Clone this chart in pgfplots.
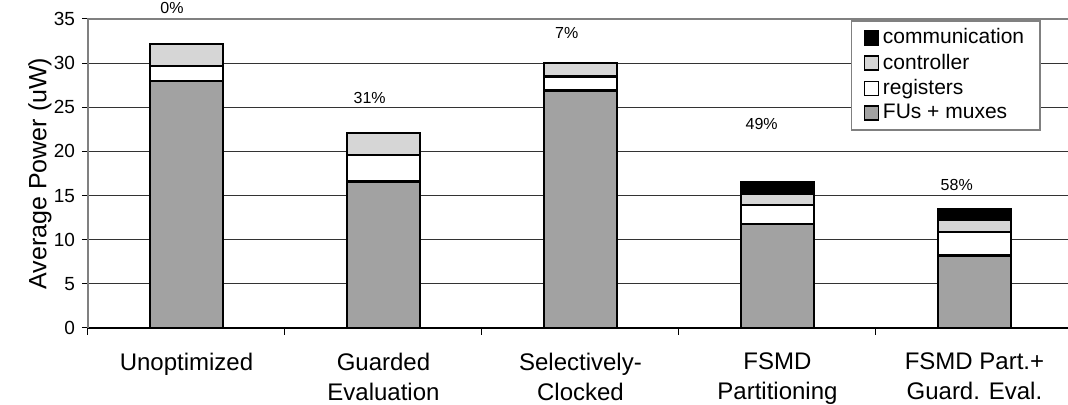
\documentclass[border=0pt]{standalone}
\usepackage{pgfplots}
\pgfplotsset{compat=1.18}
\usepackage{pgfplotstable}
\usepackage{fontspec}
\setmainfont{Liberation Sans}
\usetikzlibrary{calc}
\definecolor{fugray}{HTML}{A2A2A2}
\definecolor{ctrlgray}{HTML}{D6D6D6}
\pgfplotstableread{
x fu reg ctrl comm
0 28.0 1.7 2.5 0
1 16.6 3.0 2.5 0
2 26.9 1.6 1.5 0
3 11.8 2.1 1.3 1.3
4 8.2 2.7 1.3 1.3
}\data
\begin{document}
\begin{tikzpicture}
\begin{axis}[
  name=ax,
  scale only axis,
  width=490pt, height=154.5pt,
  ybar stacked,
  bar width=0.37,
  xmin=-0.5, xmax=4.475,
  ymin=0, ymax=35,
  ytick={0,5,...,35},
  xtick={0,1,2,3,4},
  xticklabels={Unoptimized,{Guarded\\Evaluation},{Selectively-\\Clocked},{FSMD\\Partitioning},{FSMD Part.+\\Guard. Eval.}},
  xticklabel style={align=center, font=\fontsize{12}{15}\selectfont, yshift=-6pt},
  yticklabel style={font=\fontsize{9.5}{11}\selectfont},
  /pgf/number format/assume math mode=true,
  xtick pos=bottom, ytick pos=left,
  x tick style={draw=none},
  y tick style={black, line width=0.5pt},
  tick align=outside,
  major tick length=3pt,
  extra x ticks={-0.5,0.5,1.5,2.5,3.5},
  extra x tick labels={},
  extra x tick style={xtick pos=bottom, x tick style={draw=black, line width=0.5pt}, major tick length=3.5pt, grid=none},
  ymajorgrids,
  grid style={black!80, line width=0.5pt},
  axis line style={draw=none},
  ylabel={Average Power (uW)},
  every axis y label/.style={at={(axis description cs:-0.049,0.5)}, rotate=90, anchor=center, font=\fontsize{12.5}{15}\selectfont},
  clip=false,
  legend style={at={(axis description cs:0.9724,0.997)}, anchor=north east, draw=gray, line width=0.8pt, font=\fontsize{10.5}{12}\selectfont, cells={anchor=west}, inner xsep=6pt, inner ysep=2pt, row sep=-0.5pt},
  legend image code/.code={\draw[#1, line width=0.7pt] (0pt,-3.5pt) rectangle (7pt,3.5pt);},
  reverse legend,
  every axis plot/.append style={draw=black, line width=1.2pt},
]
\addplot[fill=fugray] table[x=x,y=fu]{\data};
\addplot[fill=white] table[x=x,y=reg]{\data};
\addplot[fill=ctrlgray] table[x=x,y=ctrl]{\data};
\addplot[fill=black] table[x=x,y=comm]{\data};
\legend{FUs + muxes,registers,controller,communication}
\draw[gray, line width=0.9pt] (rel axis cs:0,0) -- (rel axis cs:0,1) -- (rel axis cs:1,1);
\draw[black, line width=0.6pt] (rel axis cs:0,0) -- (rel axis cs:1,0);
\node[font=\fontsize{8}{9}\selectfont] at (axis cs:-0.074,36.2) {0\%};
\node[font=\fontsize{8}{9}\selectfont] at (axis cs:0.93,26.0) {31\%};
\node[font=\fontsize{8}{9}\selectfont] at (axis cs:1.93,33.4) {7\%};
\node[font=\fontsize{8}{9}\selectfont] at (axis cs:2.92,23.1) {49\%};
\node[font=\fontsize{8}{9}\selectfont] at (axis cs:3.91,16.2) {58\%};
\end{axis}
\pgfresetboundingbox
\path ($(ax.south west)+(-44pt,-38.5pt)$) rectangle ($(ax.north east)+(0pt,9.5pt)$);
\end{tikzpicture}
\end{document}
